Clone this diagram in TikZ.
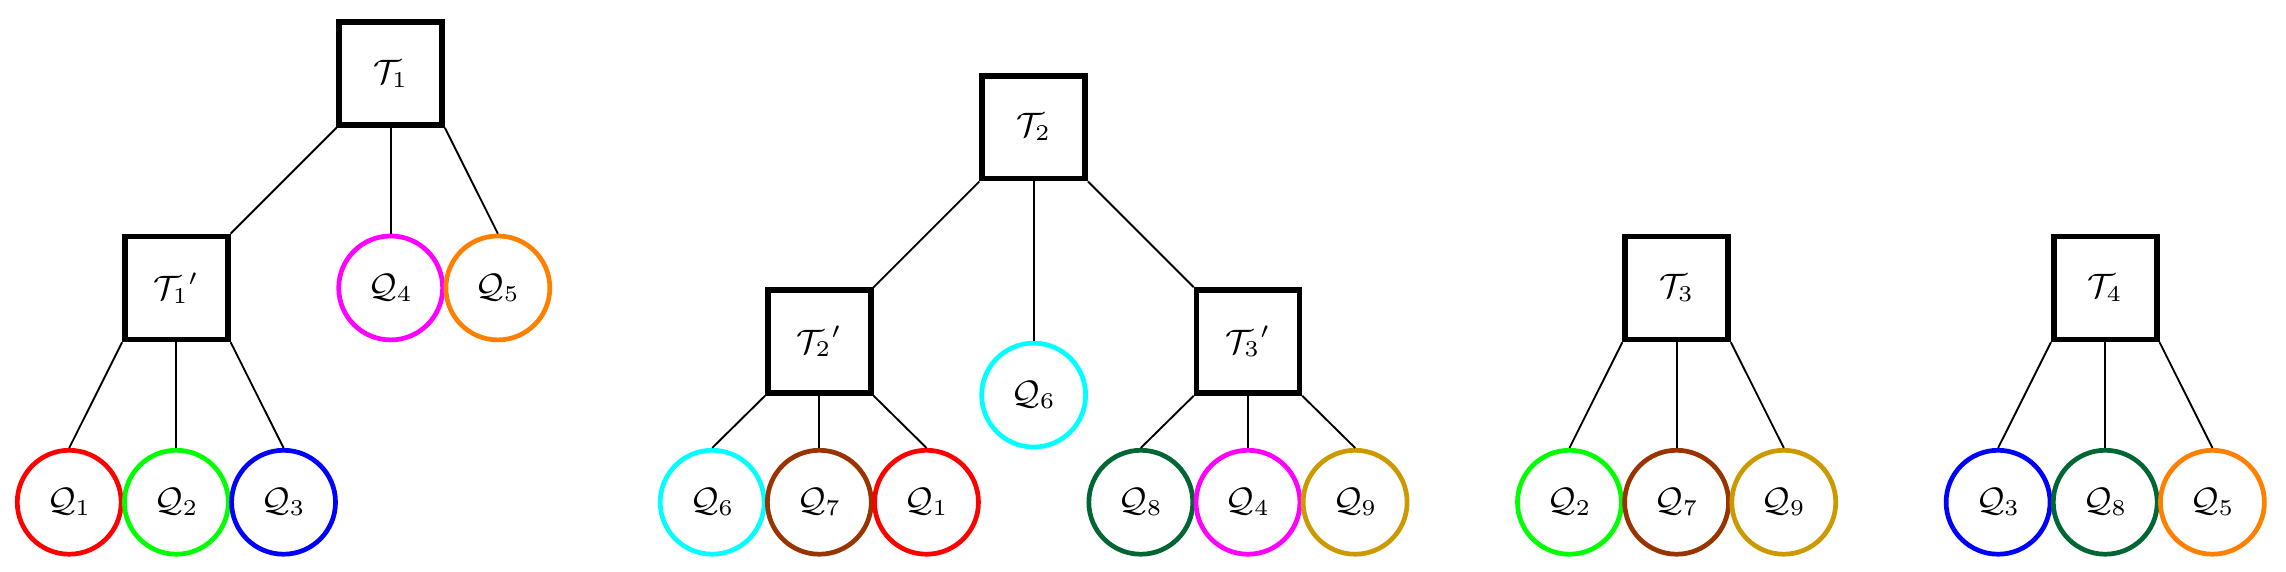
\documentclass[tikz,border=0pt]{standalone}
\usepackage{amsmath}
\definecolor{qorange}{RGB}{255,128,0}
\definecolor{qbrown}{RGB}{153,51,0}
\definecolor{qdgreen}{RGB}{0,102,51}
\definecolor{qgold}{RGB}{204,153,0}
\definecolor{qgreen}{RGB}{0,255,0}
\definecolor{qcyan}{RGB}{0,255,255}
\definecolor{qmagenta}{RGB}{255,0,255}
\definecolor{qred}{RGB}{255,0,0}
\definecolor{qblue}{RGB}{0,0,255}
\begin{document}
\begin{tikzpicture}[x=1cm,y=1cm,
  font=\small,
  tbox/.style={draw=black,line width=1.5pt,rectangle,minimum size=0.96cm,inner sep=0pt},
  qc/.style={draw=#1,line width=1.25pt,circle,minimum size=0.97cm,inner sep=0pt},
  edge/.style={line width=0.5pt}]
\useasboundingbox (-0.646,-0.646) rectangle (20.687,4.687);
% Tree 1
\node[tbox] (T1) at (3,4) {$\mathcal{T}_1$};
\node[tbox] (T1p) at (1,2) {$\mathcal{T}_1{}'$};
\node[qc=qmagenta] (a4) at (3,2) {$\mathcal{Q}_4$};
\node[qc=qorange] (a5) at (4,2) {$\mathcal{Q}_5$};
\node[qc=qred] (a1) at (0,0) {$\mathcal{Q}_1$};
\node[qc=qgreen] (a2) at (1,0) {$\mathcal{Q}_2$};
\node[qc=qblue] (a3) at (2,0) {$\mathcal{Q}_3$};
\draw[edge] (T1.south west) -- (T1p.north east);
\draw[edge] (T1.south) -- (a4.north);
\draw[edge] (T1.south east) -- (a5.north);
\draw[edge] (T1p.south west) -- (a1.north);
\draw[edge] (T1p.south) -- (a2.north);
\draw[edge] (T1p.south east) -- (a3.north);
% Tree 2
\node[tbox] (T2) at (9,3.5) {$\mathcal{T}_2$};
\node[tbox] (T2p) at (7,1.5) {$\mathcal{T}_2{}'$};
\node[qc=qcyan] (b6m) at (9,1) {$\mathcal{Q}_6$};
\node[tbox] (T3p) at (11,1.5) {$\mathcal{T}_3{}'$};
\node[qc=qcyan] (b6) at (6,0) {$\mathcal{Q}_6$};
\node[qc=qbrown] (b7) at (7,0) {$\mathcal{Q}_7$};
\node[qc=qred] (b1) at (8,0) {$\mathcal{Q}_1$};
\node[qc=qdgreen] (b8) at (10,0) {$\mathcal{Q}_8$};
\node[qc=qmagenta] (b4) at (11,0) {$\mathcal{Q}_4$};
\node[qc=qgold] (b9) at (12,0) {$\mathcal{Q}_9$};
\draw[edge] (T2.south west) -- (T2p.north east);
\draw[edge] (T2.south) -- (b6m.north);
\draw[edge] (T2.south east) -- (T3p.north west);
\draw[edge] (T2p.south west) -- (b6.north);
\draw[edge] (T2p.south) -- (b7.north);
\draw[edge] (T2p.south east) -- (b1.north);
\draw[edge] (T3p.south west) -- (b8.north);
\draw[edge] (T3p.south) -- (b4.north);
\draw[edge] (T3p.south east) -- (b9.north);
% Tree 3
\node[tbox] (T3) at (15,2) {$\mathcal{T}_3$};
\node[qc=qgreen] (c2) at (14,0) {$\mathcal{Q}_2$};
\node[qc=qbrown] (c7) at (15,0) {$\mathcal{Q}_7$};
\node[qc=qgold] (c9) at (16,0) {$\mathcal{Q}_9$};
\draw[edge] (T3.south west) -- (c2.north);
\draw[edge] (T3.south) -- (c7.north);
\draw[edge] (T3.south east) -- (c9.north);
% Tree 4
\node[tbox] (T4) at (19,2) {$\mathcal{T}_4$};
\node[qc=qblue] (d3) at (18,0) {$\mathcal{Q}_3$};
\node[qc=qdgreen] (d8) at (19,0) {$\mathcal{Q}_8$};
\node[qc=qorange] (d5) at (20,0) {$\mathcal{Q}_5$};
\draw[edge] (T4.south west) -- (d3.north);
\draw[edge] (T4.south) -- (d8.north);
\draw[edge] (T4.south east) -- (d5.north);
\end{tikzpicture}
\end{document}
